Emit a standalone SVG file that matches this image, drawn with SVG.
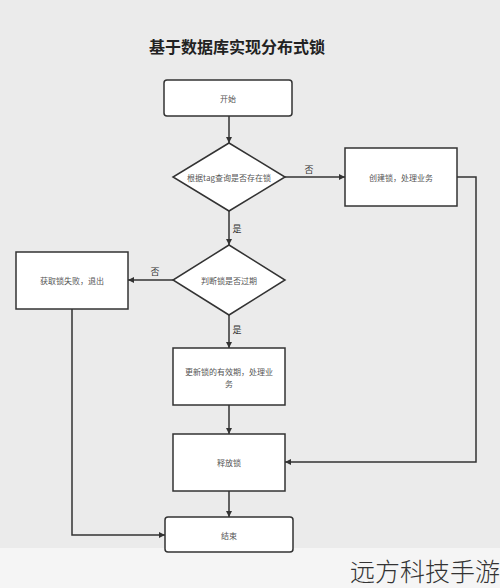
<svg xmlns="http://www.w3.org/2000/svg" width="500" height="588" viewBox="0 0 500 588">
<style>
.bg{fill:#ebebeb}
.box{fill:#ffffff;stroke:#333333;stroke-width:1.5}
.t{font-family:"Noto Sans CJK SC","Liberation Sans",sans-serif;font-size:8px;fill:#555555;text-anchor:middle;dominant-baseline:central}
.lbl{font-family:"Noto Sans CJK SC","Liberation Sans",sans-serif;font-size:9px;fill:#333333;text-anchor:middle;dominant-baseline:central}
.ln{fill:none;stroke:#333333;stroke-width:1.5}
</style>
<defs>
<marker id="arr" viewBox="0 0 10 10" refX="10" refY="5" markerWidth="6" markerHeight="6" orient="auto" markerUnits="userSpaceOnUse">
<path d="M0,0 L10,5 L0,10 Z" fill="#333333"/>
</marker>
</defs>
<rect class="bg" x="0" y="0" width="500" height="548"/>
<rect x="0" y="548" width="500" height="40" fill="#f5f5f5"/>
<text x="237" y="46" font-family="Noto Sans CJK SC,Liberation Sans,sans-serif" font-size="16" font-weight="bold" fill="#222222" text-anchor="middle" dominant-baseline="central">基于数据库实现分布式锁</text>

<g id="connectors">
<line class="ln" x1="229" y1="116" x2="229" y2="143" marker-end="url(#arr)"/>
<line class="ln" x1="285" y1="177" x2="345" y2="177" marker-end="url(#arr)"/>
<line class="ln" x1="229" y1="211" x2="229" y2="245" marker-end="url(#arr)"/>
<line class="ln" x1="173" y1="280" x2="128" y2="280" marker-end="url(#arr)"/>
<line class="ln" x1="229" y1="315" x2="229" y2="348" marker-end="url(#arr)"/>
<line class="ln" x1="229" y1="405" x2="229" y2="434" marker-end="url(#arr)"/>
<line class="ln" x1="229" y1="491" x2="229" y2="517" marker-end="url(#arr)"/>
<polyline class="ln" points="457,177 476,177 476,462 285,462" marker-end="url(#arr)"/>
<polyline class="ln" points="72,309 72,535 165,535" marker-end="url(#arr)"/>
<text class="lbl" x="309" y="169">否</text>
<text class="lbl" x="237" y="228">是</text>
<text class="lbl" x="155" y="271">否</text>
<text class="lbl" x="237" y="329">是</text>
</g>

<g id="start">
<rect class="box" x="164" y="80" width="128" height="36" rx="3"/>
<text class="t" x="228" y="98">开始</text>
</g>
<g id="check-tag">
<polygon class="box" points="229,143 285,177 229,211 173,177"/>
<text class="t" x="229" y="177">根据tag查询是否存在锁</text>
</g>
<g id="create-lock">
<rect class="box" x="345" y="148" width="112" height="58"/>
<text class="t" x="401" y="177">创建锁，处理业务</text>
</g>
<g id="check-expire">
<polygon class="box" points="229,245 285,280 229,315 173,280"/>
<text class="t" x="229" y="280">判断锁是否过期</text>
</g>
<g id="fail">
<rect class="box" x="16" y="252" width="112" height="57"/>
<text class="t" x="72" y="280">获取锁失败，退出</text>
</g>
<g id="update">
<rect class="box" x="173" y="348" width="112" height="57"/>
<text class="t" x="229" y="371">更新锁的有效期，处理业</text>
<text class="t" x="229" y="383">务</text>
</g>
<g id="release">
<rect class="box" x="173" y="434" width="112" height="57"/>
<text class="t" x="229" y="462">释放锁</text>
</g>
<g id="end">
<rect class="box" x="165" y="517" width="128" height="35" rx="3"/>
<text class="t" x="229" y="535">结束</text>
</g>
<text x="500" y="570" font-family="Noto Sans CJK SC,sans-serif" font-size="25" font-weight="300" fill="#333333" text-anchor="end" dominant-baseline="central">远方科技手游</text>
</svg>
